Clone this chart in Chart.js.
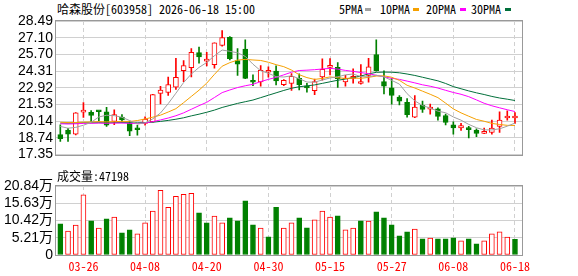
<!DOCTYPE html>
<html>
<head>
<meta charset="utf-8">
<script src="https://cdn.jsdelivr.net/npm/chart.js@4.4.1/dist/chart.umd.min.js"></script>
<style>
  body { margin: 0; background: #fff; }
  #wrap { position: relative; width: 578px; height: 276px; overflow: hidden; background: #fff; }
  #wrap canvas { position: absolute; left: 0; }
  .txt { position: absolute; font-family: 'Noto Sans Mono CJK SC', 'Liberation Mono', 'Noto Sans CJK SC', monospace; font-size: 12px; line-height: 14px; color: #000; white-space: nowrap; }
  .mk { position: absolute; width: 6px; height: 3px; }
</style>
</head>
<body>
<div id="wrap">
  <div class="txt" id="title" style="left:57px;top:2px">哈森股份[603958] 2026-06-18 15:00</div>
  <div id="legend"></div>
  <canvas id="priceChart" width="578" height="166" style="top:0"></canvas>
  <canvas id="volChart" width="578" height="110" style="top:166px"></canvas>
  <div class="txt" id="volLabel" style="left:57px;top:169px">成交量:47198</div>
</div>
<script>
// trading days shown on the chart
const dates = ['03-23','03-24','03-25','03-26','03-27','03-30','03-31','04-01','04-02','04-03',
  '04-07','04-08','04-09','04-10','04-13','04-14','04-15','04-16','04-17','04-20',
  '04-21','04-22','04-23','04-24','04-27','04-28','04-29','04-30','05-06','05-07',
  '05-08','05-11','05-12','05-13','05-14','05-15','05-18','05-19','05-20','05-21',
  '05-22','05-25','05-26','05-27','05-28','05-29','06-01','06-02','06-03','06-04',
  '06-05','06-08','06-09','06-10','06-11','06-12','06-15','06-16','06-17','06-18'];
const tickDates = ['03-26','04-08','04-20','04-30','05-15','05-27','06-08','06-18'];

const opens = [19.01,19.40,19.05,20.89,20.87,20.95,20.92,20.12,20.48,19.95,
  19.48,19.94,20.10,22.46,22.53,22.97,24.34,24.59,25.85,25.14,
  24.85,26.46,27.12,25.18,26.14,23.55,23.40,24.22,24.32,23.18,
  23.28,23.72,23.08,22.68,23.82,24.62,24.62,23.40,23.70,23.28,
  23.95,25.70,23.43,22.92,22.15,21.71,20.47,21.45,21.14,21.17,
  20.60,19.83,19.57,19.47,19.39,19.12,19.19,19.70,20.40,20.40];
const highs = [19.83,19.55,20.86,21.68,21.02,21.00,21.30,21.08,20.68,20.14,
  19.80,20.49,22.38,23.05,23.82,25.37,25.19,26.19,26.32,25.88,
  26.66,27.69,27.20,26.20,26.92,24.00,24.78,24.66,24.75,23.60,
  24.10,24.08,23.30,23.65,25.33,25.35,25.03,23.95,24.50,24.85,
  25.37,26.91,24.34,23.69,22.28,22.02,22.28,21.81,21.56,21.25,
  20.73,20.09,19.96,19.70,19.50,19.57,20.22,20.91,20.99,20.86];
const lows = [18.44,18.45,19.00,20.45,20.05,20.15,19.70,19.85,20.06,18.93,
  18.98,19.81,20.05,21.58,22.28,22.79,23.44,23.82,24.98,24.75,
  24.55,26.40,25.25,23.95,23.68,23.10,23.05,23.81,23.15,23.10,
  22.70,22.75,22.55,22.35,23.55,24.00,22.95,23.05,23.30,23.22,
  23.38,24.30,22.41,21.56,21.50,20.47,20.42,20.86,20.73,20.22,
  19.83,19.06,19.37,18.75,18.85,19.10,19.06,19.19,20.22,19.96];
const closes = [18.67,19.06,20.84,20.99,20.62,20.92,19.80,20.69,20.25,19.30,
  19.42,20.32,22.35,22.72,23.18,23.80,24.77,25.88,25.49,25.20,
  26.66,27.10,25.35,24.90,23.70,23.38,24.38,24.30,23.50,23.54,
  23.88,23.18,22.90,23.44,24.45,24.72,23.68,23.72,23.76,23.35,
  24.67,24.34,23.05,22.28,21.81,20.68,21.32,21.12,21.20,20.53,
  20.04,19.57,19.78,19.43,19.11,19.15,19.57,20.22,20.53,20.43];
const prevClose = 19.10;

// volume in 万手
const volumes = [9.42,7.21,9.02,18.14,10.32,8.12,10.92,11.42,6.71,7.62,
  6.41,9.72,13.23,19.54,14.43,17.74,18.34,18.64,12.73,9.72,
  11.72,9.72,11.22,10.32,16.33,9.12,8.12,5.51,14.43,8.12,
  9.72,11.22,8.22,10.62,13.23,11.42,11.82,7.62,8.12,10.32,
  10.22,13.03,11.22,9.12,5.81,7.01,7.82,4.91,5.11,4.91,
  4.91,5.21,4.31,4.91,3.41,4.31,6.41,7.01,5.41,4.72];

const ma5 = [19.70,19.55,19.62,19.80,20.04,20.49,20.63,20.60,20.46,20.19,
  19.89,20.00,20.33,20.82,21.60,22.47,23.36,24.07,24.62,25.03,
  25.60,26.07,25.96,25.84,25.54,24.89,24.34,24.13,23.85,23.82,
  23.92,23.68,23.40,23.39,23.57,23.74,23.84,24.00,24.07,23.85,
  23.84,23.97,23.83,23.54,23.23,22.43,21.83,21.44,21.23,20.97,
  20.84,20.49,20.22,19.87,19.59,19.41,19.41,19.50,19.72,19.98];
const ma10 = [20.05,20.02,20.03,20.06,20.08,20.10,20.08,20.10,20.12,20.11,
  20.19,20.32,20.47,20.64,20.90,21.18,21.68,22.20,22.72,23.31,
  24.04,24.72,25.02,25.23,25.29,25.24,25.20,25.05,24.85,24.68,
  24.40,24.01,23.77,23.62,23.70,23.83,23.76,23.70,23.73,23.71,
  23.79,23.90,23.92,23.80,23.54,23.13,22.90,22.64,22.38,22.10,
  21.64,21.16,20.83,20.55,20.28,20.13,19.95,19.86,19.79,19.78];
const ma20 = [19.92,19.90,19.92,19.95,19.96,19.98,19.96,19.98,19.98,19.96,
  19.95,19.98,20.10,20.24,20.40,20.59,20.83,21.13,21.43,21.71,
  22.11,22.52,22.74,22.94,23.09,23.21,23.44,23.62,23.79,24.00,
  24.22,24.36,24.39,24.43,24.49,24.54,24.48,24.37,24.29,24.19,
  24.10,23.96,23.84,23.71,23.62,23.48,23.33,23.17,23.05,22.90,
  22.71,22.53,22.38,22.18,21.91,21.63,21.42,21.25,21.09,20.94];
const ma30 = [19.98,19.97,19.98,20.00,20.00,20.01,20.00,20.01,20.02,20.01,
  20.00,20.02,20.05,20.12,20.20,20.30,20.42,20.58,20.72,20.88,
  21.06,21.28,21.45,21.62,21.76,21.90,22.10,22.30,22.50,22.70,
  22.88,23.01,23.08,23.16,23.29,23.42,23.55,23.65,23.77,23.90,
  24.08,24.21,24.23,24.22,24.17,24.07,23.95,23.80,23.65,23.50,
  23.28,23.02,22.84,22.66,22.50,22.36,22.20,22.07,21.97,21.86];

const priceTicks = [17.35,18.74,20.14,21.53,22.92,24.31,25.70,27.10,28.49];
const volTicks = [0,5.21,10.42,15.63,20.84];

const RED = '#ff0000';
const GREEN = '#008000';
const maLines = [
  {name: '5PMA', data: ma5, color: '#a0a0a0', left: 339, mk: 365},
  {name: '10PMA', data: ma10, color: '#f5a000', left: 380, mk: 413},
  {name: '20PMA', data: ma20, color: '#ff00ff', left: 426, mk: 460},
  {name: '30PMA', data: ma30, color: '#006f3a', left: 471, mk: 505},
];

// legend (html text)
const legend = document.getElementById('legend');
maLines.forEach(m => {
  legend.innerHTML += `<div class="txt" style="left:${m.left}px;top:2px">${m.name}</div>` +
    `<div class="mk" style="left:${m.mk}px;top:8px;background:${m.color}"></div>`;
});

const tickIdx = tickDates.map(d => dates.indexOf(d));
const up = closes.map((c, i) => c >= opens[i]);
const volUp = closes.map((c, i) => c > (i === 0 ? prevClose : closes[i - 1]));

const monoFont = {family: "'Noto Sans Mono CJK SC', 'Liberation Mono', monospace", size: 12};
const numFont = {family: "'Liberation Sans Narrow', 'Liberation Sans', 'Noto Sans CJK SC'", size: 14};

const framePlugin = {
  id: 'frame',
  afterDraw(chart) {
    const {ctx, chartArea: a} = chart;
    ctx.save();
    ctx.strokeStyle = '#999';
    ctx.lineWidth = 1;
    ctx.strokeRect(Math.round(a.left) - 0.5, Math.round(a.top) - 0.5,
      Math.round(a.right - a.left) + 1, Math.round(a.bottom - a.top) + 1);
    ctx.restore();
  }
};

function xScale(showLabels) {
  return {
    type: 'linear',
    min: -0.56,
    max: 59.91,
    offset: false,
    afterBuildTicks: s => { s.ticks = tickIdx.map(v => ({value: v})); },
    grid: {color: '#d0d0d0', drawTicks: false, offset: false},
    border: {display: false, dash: [4, 3]},
    ticks: {
      display: showLabels, autoSkip: false, maxRotation: 0, padding: 4,
      color: RED, font: monoFont,
      callback: v => dates[v]
    },
    afterFit: s => { s.height = showLabels ? 21 : 0; }
  };
}

function yScale(min, max, ticks, fmt) {
  return {
    position: 'left',
    min: min,
    max: max,
    afterBuildTicks: s => { s.ticks = ticks.map(v => ({value: v})); },
    grid: {color: '#d0d0d0', drawTicks: false},
    border: {display: false},
    ticks: {autoSkip: false, padding: 3, color: '#000', font: numFont, callback: fmt},
    afterFit: s => { s.width = 56; }
  };
}

const common = {
  responsive: false,
  animation: false,
  devicePixelRatio: 1,
  plugins: {legend: {display: false}, tooltip: {enabled: false}},
};

new Chart(document.getElementById('priceChart'), {
  type: 'bar',
  data: {
    datasets: [
      ...maLines.map(m => ({
        type: 'line',
        data: m.data.map((v, i) => ({x: i, y: v})),
        borderColor: m.color,
        borderWidth: 1,
        pointRadius: 0,
        tension: 0,
        order: 0
      })),
      {
        data: opens.map((o, i) => ({x: i, y: [o, closes[i]]})),
        backgroundColor: up.map(u => u ? '#ffffff' : GREEN),
        borderColor: up.map(u => u ? RED : GREEN),
        borderWidth: 1,
        borderSkipped: false,
        barThickness: 5,
        minBarLength: 2,
        grouped: false,
        order: 1
      },
      {
        data: lows.map((l, i) => ({x: i, y: [l, highs[i]]})),
        backgroundColor: up.map(u => u ? RED : GREEN),
        borderWidth: 0,
        barThickness: 1,
        grouped: false,
        order: 2
      }
    ]
  },
  options: {
    ...common,
    layout: {padding: {top: 21, right: 56, bottom: 1, left: 0}},
    scales: {
      x: xScale(false),
      y: yScale(17.35, 28.49, priceTicks, v => v.toFixed(2))
    }
  },
  plugins: [framePlugin]
});

new Chart(document.getElementById('volChart'), {
  type: 'bar',
  data: {
    datasets: [{
      data: volumes.map((v, i) => ({x: i, y: v})),
      backgroundColor: volUp.map(u => u ? '#ffffff' : GREEN),
      borderColor: volUp.map(u => u ? RED : GREEN),
      borderWidth: 1,
      borderSkipped: false,
      barThickness: 5,
      grouped: false
    }]
  },
  options: {
    ...common,
    layout: {padding: {top: 20, right: 56, bottom: 0, left: 0}},
    scales: {
      x: xScale(true),
      y: yScale(0, 20.84, volTicks, v => v === 0 ? '0' : v.toFixed(2) + '万')
    }
  },
  plugins: [framePlugin]
});
</script>
</body>
</html>
